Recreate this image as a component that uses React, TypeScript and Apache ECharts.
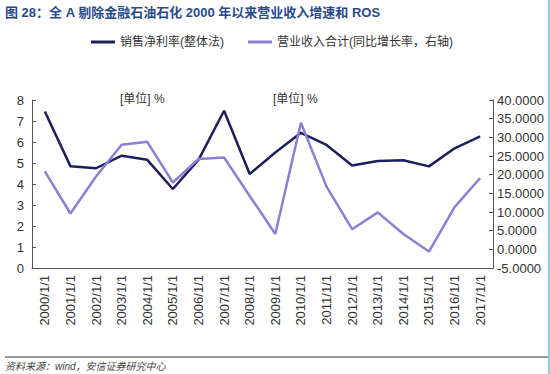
import React, { useEffect, useRef } from "react";
import * as echarts from "echarts";

const categories = [
  "2000/1/1", "2001/1/1", "2002/1/1", "2003/1/1", "2004/1/1", "2005/1/1",
  "2006/1/1", "2007/1/1", "2008/1/1", "2009/1/1", "2010/1/1", "2011/1/1",
  "2012/1/1", "2013/1/1", "2014/1/1", "2015/1/1", "2016/1/1", "2017/1/1",
];
const rosValues = [7.45, 4.85, 4.75, 5.35, 5.15, 3.76, 5.15, 7.49, 4.48, 5.5, 6.44, 5.86, 4.88, 5.1, 5.13, 4.84, 5.7, 6.27];
const revenueGrowth = [20.9, 9.6, 19.5, 28.0, 28.8, 17.9, 24.2, 24.6, 14.3, 4.1, 33.9, 16.8, 5.4, 9.9, 4.1, -0.6, 11.3, 19.1];
const seriesNames = ["销售净利率(整体法)", "营业收入合计(同比增长率，右轴)"];
const titleText = "图 28：全 A 剔除金融石油石化 2000 年以来营业收入增速和 ROS";
const sourceText = "资料来源：wind，安信证券研究中心";
const unitText = "[单位] %";

export default function App() {
  const ref = useRef<HTMLDivElement>(null);
  useEffect(() => {
    document.body.style.margin = "0";
    if (!ref.current) return;
    const chart = echarts.init(ref.current, null, { renderer: "svg" });
    const font = "Arial, 'Liberation Sans', 'Noto Sans CJK SC', sans-serif";
    chart.setOption({
      animation: false,
      backgroundColor: "#fff",
      textStyle: { fontFamily: font },
      grid: { left: 32, right: 57, top: 100, bottom: 106, containLabel: false },
      legend: {
        top: 31,
        left: 86,
        itemWidth: 24,
        itemHeight: 3,
        itemGap: 24,
        icon: "rect",
        textStyle: { fontSize: 12, color: "#333", fontFamily: font },
        data: seriesNames,
      },
      xAxis: {
        type: "category",
        data: categories,
        boundaryGap: true,
        axisLine: { lineStyle: { color: "#555", width: 1 } },
        axisTick: { inside: true, length: 4, lineStyle: { color: "#555" } },
        axisLabel: { rotate: 90, fontSize: 13, color: "#333", margin: 7, interval: 0 },
      },
      yAxis: [
        {
          type: "value",
          min: 0,
          max: 8,
          interval: 1,
          splitLine: { show: false },
          axisLine: { show: true, lineStyle: { color: "#555" } },
          axisTick: { show: true, inside: true, length: 4, lineStyle: { color: "#555" } },
          axisLabel: { fontSize: 13, color: "#333", margin: 8 },
        },
        {
          type: "value",
          min: -5,
          max: 40,
          interval: 5,
          splitLine: { show: false },
          axisLine: { show: true, lineStyle: { color: "#555" } },
          axisTick: { show: true, inside: true, length: 4, lineStyle: { color: "#555" } },
          axisLabel: {
            fontSize: 13,
            color: "#333",
            margin: 4,
            formatter: (v: number) => v.toFixed(4),
          },
        },
      ],
      series: [
        {
          name: seriesNames[0],
          type: "line",
          data: rosValues,
          yAxisIndex: 0,
          symbol: "none",
          lineStyle: { color: "#1c1f5c", width: 2.5 },
          itemStyle: { color: "#1c1f5c" },
        },
        {
          name: seriesNames[1],
          type: "line",
          data: revenueGrowth,
          yAxisIndex: 1,
          symbol: "none",
          lineStyle: { color: "#8a80d6", width: 2.5 },
          itemStyle: { color: "#8a80d6" },
        },
      ],
      graphic: [
        {
          type: "text",
          left: 5,
          top: 6,
          style: { text: titleText, fontSize: 13, fontWeight: "bold", fill: "#2a4a8c", fontFamily: font },
        },
        {
          type: "text",
          left: 120,
          top: 93,
          style: { text: unitText, fontSize: 12, fill: "#333", fontFamily: font },
        },
        {
          type: "text",
          left: 273,
          top: 93,
          style: { text: unitText, fontSize: 12, fill: "#333", fontFamily: font },
        },
        {
          type: "line",
          shape: { x1: 5, y1: 357, x2: 548, y2: 357 },
          style: { stroke: "#333", lineWidth: 1 },
        },
        {
          type: "text",
          left: 5,
          top: 361,
          style: { text: sourceText, fontSize: 10, fontStyle: "italic", fill: "#444", fontFamily: font },
        },
        {
          type: "rect",
          shape: { x: 548, y: 0, width: 2, height: 374 },
          style: { fill: "#7fd6dc" },
        },
      ],
    });
    return () => chart.dispose();
  }, []);
  return <div ref={ref} style={{ width: 550, height: 374 }} />;
}
